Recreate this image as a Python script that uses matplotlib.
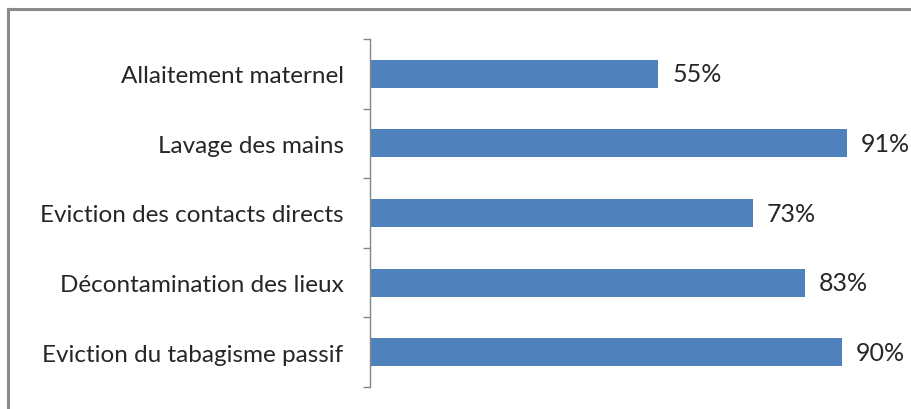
import matplotlib
matplotlib.use("Agg")
import matplotlib.pyplot as plt
from matplotlib.lines import Line2D
import numpy as np

categories = ["Allaitement maternel", "Lavage des mains", "Eviction des contacts directs",
              "Décontamination des lieux", "Eviction du tabagisme passif"]
values = [55, 91, 73, 83, 90]
value_labels = ["55%", "91%", "73%", "83%", "90%"]

plt.rcParams['font.family'] = ['Lato', 'DejaVu Sans']

fig = plt.figure(figsize=(9.12, 4.10), dpi=100)
ax = fig.add_axes([370/912, 1-388/410, 524/912, 348/410])

y = np.arange(len(categories))
ax.barh(y, values, height=0.4, color='#4F81BD')
ax.set_xlim(0, 100)
ax.set_ylim(len(categories)-0.5, -0.5)

for yi, v, lab in zip(y, values, value_labels):
    ax.text(v + 2.7, yi, lab, va='center', ha='left', fontsize=18, color='#262626')

ax.set_yticks(np.arange(-0.5, len(categories), 1.0))
ax.set_yticklabels([])
ax.set_yticks(y, minor=True)
ax.set_yticklabels(categories, minor=True, fontsize=17.5, color='#262626')
ax.tick_params(axis='y', which='major', length=5, width=1, color='#868686', direction='out')
ax.tick_params(axis='y', which='minor', length=0, pad=19)
ax.set_xticks([])
for s in ['top', 'right', 'bottom']:
    ax.spines[s].set_visible(False)
ax.spines['left'].set_color('#868686')
ax.spines['left'].set_linewidth(1)

# figure border (top and left)
fig.add_artist(Line2D([8/912, 1], [1-10/410, 1-10/410], color='#8a8a8a', lw=2.2, transform=fig.transFigure))
fig.add_artist(Line2D([8/912, 8/912], [0, 1-10/410], color='#8a8a8a', lw=2.2, transform=fig.transFigure))

fig.savefig("out.png", dpi=100)
